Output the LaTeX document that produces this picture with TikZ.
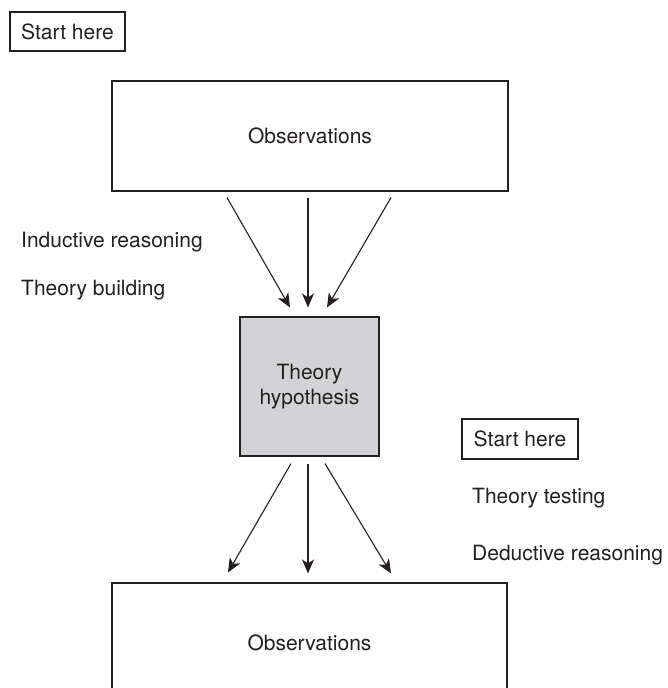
\documentclass[tikz,border=0pt]{standalone}
\usepackage{fontspec}
\setmainfont{TeX Gyre Heros}
\usetikzlibrary{arrows.meta}
\definecolor{ink}{HTML}{231F20}
\definecolor{hypfill}{HTML}{D3D3D5}
\tikzset{
  box/.style={draw=ink, line width=1.1pt, rectangle, inner sep=0pt, align=center, text=ink},
  lbl/.style={anchor=west, inner sep=0pt, text=ink},
  arr/.style={draw=ink, line width=1.1pt, -{Stealth[length=14pt,width=12pt,inset=4pt]}}
}
\begin{document}
\begin{tikzpicture}[x=1pt,y=1pt, font=\fontsize{21}{25.5}\selectfont]
\useasboundingbox (0,0) rectangle (667,688);
\clip (0,0) rectangle (667,688);
\node[box, minimum width=115pt, minimum height=39pt] (start1) at (67.5,656.5) {Start here};
\node[box, minimum width=396pt, minimum height=110pt] (obs1) at (310,552) {Observations};
\node[lbl] (ind) at (21,446) {Inductive reasoning};
\node[lbl] (build) at (21,398) {Theory building};
\node[box, fill=hypfill, minimum width=139pt, minimum height=139pt] (hyp) at (309.5,301.5) {Theory\\hypothesis};
\node[box, minimum width=116pt, minimum height=40pt] (start2) at (520,249) {Start here};
\node[lbl] (test) at (472,190) {Theory testing};
\node[lbl] (ded) at (472,133) {Deductive reasoning};
\node[box, minimum width=395pt, minimum height=120pt] (obs2) at (309.5,45) {Observations};
% inductive arrows
\draw[arr] ([shift={(-83,-6)}]obs1.south) -- ([shift={(-19.5,9)}]hyp.north);
\draw[arr] ([shift={(-2,-6)}]obs1.south) -- ([shift={(-1.5,9)}]hyp.north);
\draw[arr] ([shift={(81,-6)}]obs1.south) -- ([shift={(17.5,9)}]hyp.north);
% deductive arrows
\draw[arr] ([shift={(-18.5,-7)}]hyp.south) -- ([shift={(-81.5,10)}]obs2.north);
\draw[arr] ([shift={(-1.5,-7)}]hyp.south) -- ([shift={(-1.5,9)}]obs2.north);
\draw[arr] ([shift={(15.5,-7)}]hyp.south) -- ([shift={(81.5,9)}]obs2.north);
\end{tikzpicture}
\end{document}
